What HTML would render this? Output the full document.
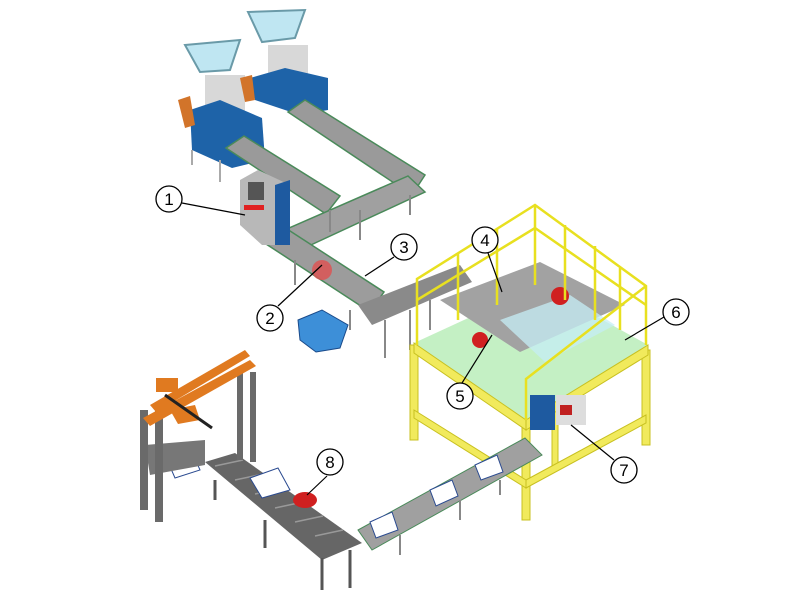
<!DOCTYPE html>
<html><head><style>body{margin:0;background:#fff}svg{display:block}</style></head><body>
<svg width="800" height="600" viewBox="0 0 800 600" xmlns="http://www.w3.org/2000/svg" font-family="Liberation Sans, sans-serif">
<rect width="800" height="600" fill="#fff"/>
<!-- top machines -->
<g>
<polygon points="185,45 240,40 230,70 200,72" fill="#bfe6f2" stroke="#6a9aa8" stroke-width="2"/>
<polygon points="248,12 305,10 295,38 262,42" fill="#bfe6f2" stroke="#6a9aa8" stroke-width="2"/>
<rect x="205" y="75" width="40" height="40" fill="#d8d8d8"/>
<rect x="268" y="45" width="40" height="40" fill="#d8d8d8"/>
<polygon points="190,110 220,100 262,118 265,160 232,168 192,150" fill="#1e63a8"/>
<polygon points="250,78 285,68 328,78 328,110 300,115 255,100" fill="#1e63a8"/>
<polygon points="178,100 190,96 195,125 185,128" fill="#d2742a"/>
<polygon points="240,78 252,75 255,100 245,102" fill="#d2742a"/>
<line x1="192" y1="150" x2="192" y2="165" stroke="#aaa" stroke-width="2"/>
<line x1="220" y1="160" x2="220" y2="182" stroke="#aaa" stroke-width="2"/>
</g>
<!-- conveyors top -->
<polygon points="288,112 305,100 425,175 412,195" fill="#9a9a9a" stroke="#4a8a5a" stroke-width="1.5"/>
<polygon points="226,148 244,136 340,196 326,214" fill="#9a9a9a" stroke="#4a8a5a" stroke-width="1.5"/>
<polygon points="408,176 425,192 300,250 280,232" fill="#a0a0a0" stroke="#4a8a5a" stroke-width="1.5"/>
<polygon points="263,242 287,229 384,292 370,312" fill="#9c9c9c" stroke="#4a8a5a" stroke-width="1.5"/>
<polygon points="358,305 460,265 472,282 372,325" fill="#8a8a8a"/>
<g stroke="#888" stroke-width="2">
<line x1="330" y1="210" x2="330" y2="232"/><line x1="360" y1="210" x2="360" y2="240"/><line x1="410" y1="195" x2="410" y2="215"/>
<line x1="385" y1="320" x2="385" y2="358"/><line x1="410" y1="310" x2="410" y2="350"/><line x1="430" y1="300" x2="430" y2="330"/>
<line x1="295" y1="260" x2="295" y2="285"/><line x1="350" y1="310" x2="350" y2="330"/></g>
<!-- kiosk 1 -->
<polygon points="240,180 258,170 290,185 290,245 262,245 240,225" fill="#b8b8b8"/>
<polygon points="275,185 290,180 290,245 275,245" fill="#1e5aa0"/>
<rect x="248" y="182" width="16" height="18" fill="#555"/>
<rect x="244" y="205" width="20" height="5" fill="#e02020"/>
<!-- bin -->
<polygon points="298,320 322,310 348,325 340,348 316,352 300,340" fill="#3d8fd8" stroke="#1a4a8a"/>
<circle cx="322" cy="270" r="10" fill="#e05050" opacity="0.8"/>
<!-- platform -->
<g stroke="#c8c020" fill="#f1ea5c">
<rect x="410" y="345" width="8" height="95"/><rect x="522" y="420" width="8" height="100"/><rect x="642" y="350" width="8" height="95"/><rect x="552" y="410" width="6" height="60"/>
<polygon points="414,410 526,480 526,488 414,418"/><polygon points="526,480 646,415 646,423 526,488"/>
</g>
<polygon points="414,343 540,285 648,345 526,420" fill="#c4f0c4"/>
<polygon points="414,343 526,420 526,430 414,353" fill="#f1ea5c" stroke="#c8c020"/>
<polygon points="526,420 648,345 648,355 526,430" fill="#f1ea5c" stroke="#c8c020"/>
<polygon points="440,300 540,262 625,305 520,352" fill="#a2a2a2"/>
<polygon points="500,320 570,295 615,325 545,362" fill="#c6eef6" opacity="0.75"/>
<circle cx="560" cy="296" r="9" fill="#d02020"/><circle cx="480" cy="340" r="8" fill="#d02020"/>
<g stroke="#e8e020" stroke-width="2.5" fill="none">
<polyline points="417,345 417,279 535,205 646,286 646,345"/><polyline points="535,205 535,285"/>
<polyline points="417,300 535,228 646,305"/>
<line x1="458" y1="253" x2="458" y2="320"/><line x1="497" y1="229" x2="497" y2="305"/>
<line x1="565" y1="225" x2="565" y2="300"/><line x1="595" y1="246" x2="595" y2="320"/><line x1="620" y1="268" x2="620" y2="330"/>
<polyline points="646,286 526,379 526,420"/></g>
<rect x="530" y="395" width="25" height="35" fill="#1e5aa0"/>
<rect x="556" y="395" width="30" height="30" fill="#ddd"/><rect x="560" y="405" width="12" height="10" fill="#c02020"/>
<!-- output conveyor -->
<polygon points="358,530 525,438 542,455 372,550" fill="#a0a0a0" stroke="#4a8a5a"/>
<g fill="#fff" stroke="#2a4a90"><polygon points="370,522 392,512 398,530 376,538"/><polygon points="430,490 452,480 458,496 436,506"/><polygon points="475,465 497,455 503,472 481,480"/></g>
<g stroke="#888" stroke-width="2"><line x1="400" y1="535" x2="400" y2="555"/><line x1="460" y1="500" x2="460" y2="520"/><line x1="500" y1="480" x2="500" y2="495"/></g>
<!-- roller conveyor -->
<polygon points="205,462 235,453 362,543 322,560" fill="#666"/>
<g stroke="#999" stroke-width="1.5">
<line x1="215" y1="466" x2="243" y2="460"/><line x1="235" y1="480" x2="263" y2="474"/><line x1="255" y1="494" x2="283" y2="488"/><line x1="275" y1="508" x2="303" y2="502"/><line x1="295" y1="522" x2="323" y2="516"/><line x1="315" y1="536" x2="343" y2="530"/></g>
<g fill="#fff" stroke="#2a4a90"><polygon points="250,478 278,468 290,490 262,498"/><polygon points="165,455 190,447 200,470 175,478"/></g>
<ellipse cx="305" cy="500" rx="12" ry="8" fill="#d02020"/>
<g stroke="#555" stroke-width="3"><line x1="322" y1="558" x2="322" y2="590"/><line x1="350" y1="550" x2="350" y2="588"/><line x1="265" y1="520" x2="265" y2="548"/><line x1="215" y1="480" x2="215" y2="500"/></g>
<polygon points="145,445 205,440 205,465 150,475" fill="#777"/>
<!-- gantry -->
<g fill="#6a6a6a"><rect x="140" y="410" width="8" height="100"/><rect x="155" y="410" width="8" height="112"/><rect x="237" y="370" width="6" height="90"/><rect x="250" y="372" width="6" height="90"/></g>
<polygon points="143,418 250,360 256,366 150,426" fill="#e07a20"/>
<polygon points="150,405 245,350 250,356 156,412" fill="#e07a20"/>
<rect x="156" y="378" width="22" height="14" fill="#e07a20"/>
<polygon points="170,410 195,405 200,420 178,424" fill="#e07a20"/>
<line x1="165" y1="395" x2="212" y2="428" stroke="#222" stroke-width="3"/>
<!-- labels -->
<g stroke="#000" stroke-width="1.2" fill="none">
<line x1="182" y1="203" x2="245" y2="215"/><line x1="278" y1="306" x2="322" y2="265"/><line x1="394" y1="257" x2="365" y2="276"/>
<line x1="488" y1="253" x2="502" y2="292"/><line x1="462" y1="383" x2="492" y2="335"/><line x1="664" y1="317" x2="625" y2="340"/>
<line x1="614" y1="460" x2="571" y2="425"/><line x1="327" y1="476" x2="307" y2="495"/></g>
<g fill="#fff" stroke="#000" stroke-width="1.3">
<circle cx="169" cy="199" r="13"/><circle cx="270" cy="318" r="13"/><circle cx="404" cy="247" r="13"/><circle cx="485" cy="240" r="13"/>
<circle cx="460" cy="396" r="13"/><circle cx="676" cy="312" r="13"/><circle cx="624" cy="470" r="13"/><circle cx="330" cy="462" r="13"/></g>
<g font-size="17" text-anchor="middle" fill="#000">
<text x="169" y="205">1</text><text x="270" y="324">2</text><text x="404" y="253">3</text><text x="485" y="246">4</text>
<text x="460" y="402">5</text><text x="676" y="318">6</text><text x="624" y="476">7</text><text x="330" y="468">8</text></g>
</svg>
</body></html>
